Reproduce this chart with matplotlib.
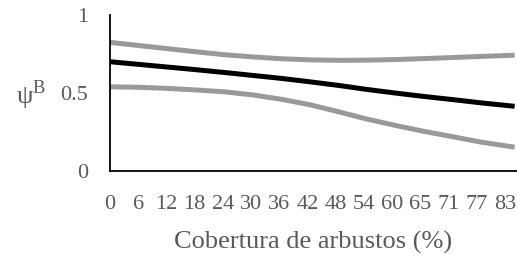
import numpy as np
import matplotlib.pyplot as plt

plt.rcParams['font.family'] = ['Liberation Serif', 'DejaVu Serif']
plt.rcParams['mathtext.fontset'] = 'custom'
plt.rcParams['mathtext.rm'] = 'Liberation Serif'

# shrub cover (%) and occupancy estimate with its confidence limits
cover = [0, 6, 12, 18, 24, 30, 36, 42, 48, 54, 60, 66, 72, 78, 85]
psi = [0.701, 0.684, 0.667, 0.650, 0.632, 0.613, 0.594, 0.572,
       0.549, 0.523, 0.500, 0.478, 0.458, 0.437, 0.415]
psi_upper = [0.825, 0.805, 0.785, 0.765, 0.746, 0.732, 0.720, 0.713,
             0.710, 0.711, 0.715, 0.721, 0.728, 0.735, 0.743]
psi_lower = [0.540, 0.537, 0.530, 0.520, 0.508, 0.488, 0.460, 0.425,
             0.380, 0.333, 0.292, 0.254, 0.220, 0.185, 0.153]

tick_labels = ['0', '6', '12', '18', '24', '30', '36', '42', '48', '54',
               '60', '65', '71', '77', '83']

txt = '#595959'

fig = plt.figure(figsize=(5.17, 2.56), dpi=100)
ax = fig.add_axes([0.2128, 0.332, 0.7872, 0.609])

ax.plot(cover, psi_upper, color='#999999', lw=3.6, solid_capstyle='butt')
ax.plot(cover, psi_lower, color='#999999', lw=3.6, solid_capstyle='butt')
ax.plot(cover, psi, color='black', lw=3.6, solid_capstyle='butt')

ax.set_xlim(0, 85.5)
ax.set_ylim(0, 1)
ax.set_xticks(np.linspace(0, 83, len(tick_labels)))
ax.set_xticklabels(tick_labels)
ax.set_yticks([0, 0.5, 1])
ax.set_yticklabels(['0', '0.5', '1'])
ax.tick_params(axis='both', length=0, labelsize=16, labelcolor=txt)
ax.tick_params(axis='x', pad=17.5)
ax.tick_params(axis='y', pad=16)

for s in ['top', 'right']:
    ax.spines[s].set_visible(False)
for s in ['left', 'bottom']:
    ax.spines[s].set_color('black')
    ax.spines[s].set_linewidth(1.3)

ax.set_xlabel('Cobertura de arbustos (%)', fontsize=19, color=txt, labelpad=12)
fig.text(0.03, 0.63, r'ψ$^{\mathrm{B}}$', fontsize=19, color=txt, va='center')

fig.savefig('out.png', dpi=100)
